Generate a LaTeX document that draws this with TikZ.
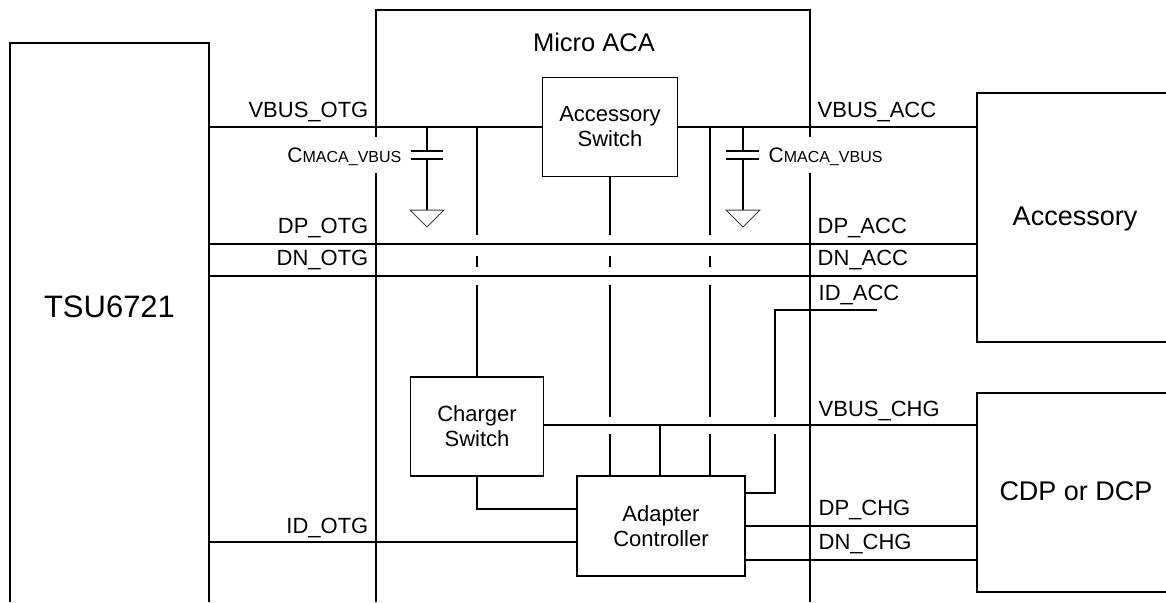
\documentclass[tikz,border=0pt]{standalone}
\usepackage{fontspec}
\setmainfont{Liberation Sans}
\begin{document}
\begin{tikzpicture}[x=1pt,y=-1pt,line width=1.3pt,
  blk/.style={draw,line width=1.3pt,inner sep=0pt,align=center,font=\fontsize{22}{25}\selectfont},
  sig/.style={inner sep=0pt,font=\fontsize{22}{25}\selectfont},
  big/.style={inner sep=0pt,font=\fontsize{27}{30}\selectfont},
  gnd/.style={line width=1pt,draw=black!75},
  caplbl/.style={inner sep=0pt}]
\useasboundingbox (0,0) rectangle (1166,602);
\clip (0,0) rectangle (1166,602);

% open outer boxes
\coordinate (tsuBL) at (10,602);
\coordinate (tsuTL) at (10,43);
\coordinate (tsuTR) at (209,43);
\coordinate (tsuBR) at (209,602);
\draw (tsuBL) -- (tsuTL) -- (tsuTR) -- (tsuBR);

\coordinate (acaBL) at (376,602);
\coordinate (acaL1) at (376,173);
\coordinate (acaL2) at (376,137);
\coordinate (acaTL) at (376,10);
\coordinate (acaTR) at (810,10);
\coordinate (acaR2) at (810,137);
\coordinate (acaR1) at (810,173);
\coordinate (acaBR) at (810,602);
\draw (acaBL) -- (acaL1);
\draw (acaL2) -- (acaTL) -- (acaTR) -- (acaR2);
\draw (acaR1) -- (acaBR);

\coordinate (accTR) at (1166,93);
\coordinate (accTL) at (977,93);
\coordinate (accBL) at (977,342);
\coordinate (accBR) at (1166,342);
\draw (accTR) -- (accTL) -- (accBL) -- (accBR);

\coordinate (cdpTR) at (1166,393);
\coordinate (cdpTL) at (977,393);
\coordinate (cdpBL) at (977,592);
\coordinate (cdpBR) at (1166,592);
\draw (cdpTR) -- (cdpTL) -- (cdpBL) -- (cdpBR);

% titles
\node[inner sep=0pt,font=\fontsize{31}{35}\selectfont,anchor=base] (tsu) at (109.5,317) {TSU6721};
\node[inner sep=0pt,font=\fontsize{25.5}{28}\selectfont,anchor=base] (aca) at (594,52) {Micro ACA};
\node[big,anchor=base] (acc) at (1075,225) {Accessory};
\node[big,anchor=base] (cdp) at (1076,500) {CDP or DCP};

% inner blocks
\node[blk,minimum width=135,minimum height=99] (asw) at (610,127) {Accessory\\Switch};
\node[blk,minimum width=133,minimum height=99] (csw) at (477,426.5) {Charger\\Switch};
\node[blk,minimum width=168,minimum height=100] (adc) at (661,526) {Adapter\\Controller};

% horizontal buses
\coordinate (vo) at (209,127);
\coordinate (va) at (977,127);
\draw (vo) -- (asw.west);
\draw (asw.east) -- (va);
\coordinate (dpo) at (209,244);
\coordinate (dpa) at (977,244);
\draw (dpo) -- (dpa);
\coordinate (dno) at (209,276);
\coordinate (dna) at (977,276);
\draw (dno) -- (dna);
\coordinate (ido) at (209,542);
\draw (ido) -- (adc.west |- ido);
\coordinate (vc) at (977,425);
\draw (csw.east |- vc) -- (vc);
\coordinate (dpc) at (977,526);
\draw (adc.east |- dpc) -- (dpc);
\coordinate (dnc) at (977,560);
\draw (adc.east |- dnc) -- (dnc);

% ID_ACC route
\coordinate (ida) at (877,310);
\coordinate (idk1) at (775,310);
\coordinate (idk2) at (775,493);
\draw (ida) -- (idk1) -- (775,416.5);
\draw (775,433.5) -- (idk2) -- (adc.east |- idk2);

% charger switch links
\coordinate (cb) at (477,509);
\draw (csw.south) -- (cb) -- (adc.west |- cb);
\coordinate (ct) at (477,127);
\draw (ct) -- (477,235);
\draw (477,256) -- (477,267);
\draw (477,285) -- (csw.north);

% accessory switch to adapter
\draw (asw.south) -- (610,235);
\draw (610,256) -- (610,267);
\draw (610,285) -- (610,416.5);
\draw (610,433.5) -- (adc.north -| asw.south);

\coordinate (vt) at (710,127);
\draw (vt) -- (710,235);
\draw (710,256) -- (710,267);
\draw (710,285) -- (710,416.5);
\draw (710,433.5) -- (adc.north -| vt);

\coordinate (vm) at (660,425);
\draw (vm) -- (adc.north -| vm);

% capacitors
\coordinate (c1) at (427,127);
\draw (c1) -- (427,151);
\draw (411,151) -- (443,151);
\draw (411,159) -- (443,159);
\draw (427,159) -- (427,210);
\draw[gnd] (410,210) -- (444,210) -- (427,227) -- cycle;

\coordinate (c2) at (743,127);
\draw (c2) -- (743,151);
\draw (726,151) -- (759,151);
\draw (726,159) -- (759,159);
\draw (743,159) -- (743,210);
\draw[gnd] (726,210) -- (760,210) -- (743,227) -- cycle;

\node[caplbl,anchor=base east] (cl1) at (402,162) {\fontsize{21}{21}\selectfont C\fontsize{16}{16}\selectfont MACA\_VBUS};
\node[caplbl,anchor=base west] (cl2) at (768,162) {\fontsize{21}{21}\selectfont C\fontsize{16}{16}\selectfont MACA\_VBUS};

% signal labels
\node[sig,anchor=base east] (lvo) at (369,117) {VBUS\_OTG};
\node[sig,anchor=base east] (ldpo) at (369,233) {DP\_OTG};
\node[sig,anchor=base east] (ldno) at (369,265) {DN\_OTG};
\node[sig,anchor=base east] (lido) at (369,533) {ID\_OTG};
\node[sig,anchor=base west] (lva) at (817,117) {VBUS\_ACC};
\node[sig,anchor=base west] (ldpa) at (817,233) {DP\_ACC};
\node[sig,anchor=base west] (ldna) at (817,265) {DN\_ACC};
\node[sig,anchor=base west] (lida) at (818,300) {ID\_ACC};
\node[sig,anchor=base west] (lvc) at (818,416) {VBUS\_CHG};
\node[sig,anchor=base west] (ldpc) at (818,515) {DP\_CHG};
\node[sig,anchor=base west] (ldnc) at (818,549) {DN\_CHG};
\end{tikzpicture}
\end{document}
